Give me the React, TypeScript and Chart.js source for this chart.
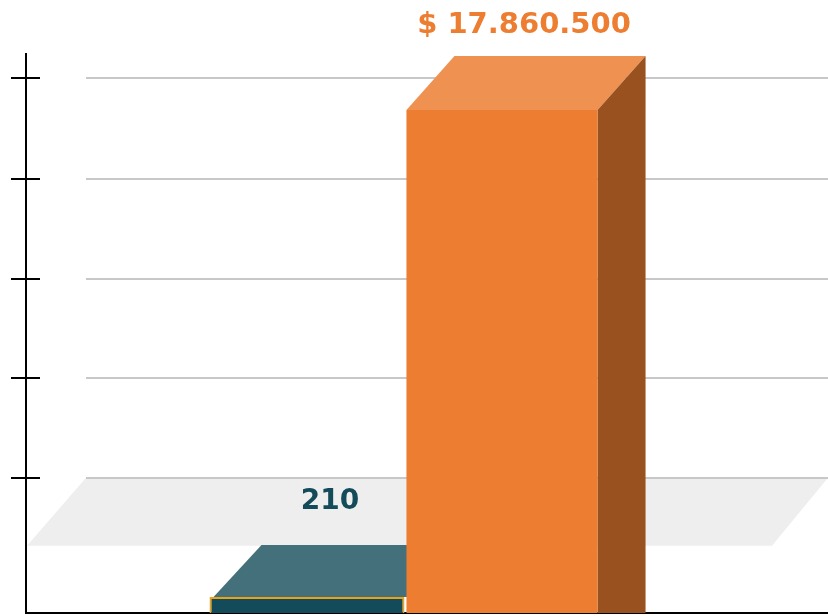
import React, { useEffect, useRef } from "react";
import { Chart, registerables } from "chart.js";

Chart.register(...registerables);

const categories = [""];
const countValues = [210];
const moneyValues = [17860500];
const moneyTicks = [4800000, 8350000, 11860000, 15410000, 19000000];
const countLabel = "210";
const moneyLabel = "$ 17.860.500";

const TEAL = "#144B5A";
const TEAL_TOP = "#44707C";
const ORANGE = "#ED7D31";
const ORANGE_TOP = "#EF9150";
const ORANGE_SIDE = "#9A5120";

function poly(ctx: CanvasRenderingContext2D, pts: number[][], fill: string) {
  ctx.fillStyle = fill;
  ctx.beginPath();
  pts.forEach(([x, y], i) => (i ? ctx.lineTo(x, y) : ctx.moveTo(x, y)));
  ctx.closePath();
  ctx.fill();
}

const scenePlugin = {
  id: "scene3d",
  beforeDatasetsDraw(chart: any) {
    const { ctx, width } = chart;
    const y = chart.scales.y;
    const firstGrid = y.getPixelForValue(moneyTicks[0]);
    ctx.save();
    // floor band
    poly(ctx, [[86, firstGrid], [width, firstGrid], [772, firstGrid + 68], [27, firstGrid + 68]], "#EEEEEE");
    // back wall grid lines
    ctx.strokeStyle = "#C8C8C8";
    ctx.lineWidth = 2;
    moneyTicks.forEach((t) => {
      const p = Math.round(y.getPixelForValue(t));
      ctx.beginPath();
      ctx.moveTo(86, p);
      ctx.lineTo(width, p);
      ctx.stroke();
    });
    // tops and sides
    const dx = 48;
    const teal = chart.getDatasetMeta(0).data[0];
    const tl = teal.x - teal.width / 2;
    const tr = teal.x + teal.width / 2;
    poly(ctx, [[tl + 4, teal.y], [tl + 4 + dx, teal.y - 52], [tr + dx, teal.y - 52], [tr + 4, teal.y]], TEAL_TOP);
    const o = chart.getDatasetMeta(1).data[0];
    const ol = o.x - o.width / 2;
    const or = o.x + o.width / 2;
    poly(ctx, [[ol, o.y], [ol + dx, o.y - 54], [or + dx, o.y - 54], [or, o.y]], ORANGE_TOP);
    poly(ctx, [[or, o.y], [or + dx, o.y - 54], [or + dx, o.base], [or, o.base]], ORANGE_SIDE);
    ctx.restore();
  },
  afterDraw(chart: any) {
    const { ctx, width } = chart;
    const y = chart.scales.y;
    const area = chart.chartArea;
    ctx.save();
    // tick marks cross the axis
    ctx.strokeStyle = "#000000";
    ctx.lineWidth = 2;
    moneyTicks.forEach((t) => {
      const p = Math.round(y.getPixelForValue(t));
      ctx.beginPath();
      ctx.moveTo(area.left, p);
      ctx.lineTo(40, p);
      ctx.stroke();
    });
    // baseline runs to the page edge
    ctx.beginPath();
    ctx.moveTo(area.right, area.bottom);
    ctx.lineTo(width, area.bottom);
    ctx.stroke();
    // value labels
    const teal = chart.getDatasetMeta(0).data[0];
    const o = chart.getDatasetMeta(1).data[0];
    ctx.textAlign = "center";
    ctx.textBaseline = "middle";
    ctx.font = "bold 28px 'DejaVu Sans'";
    ctx.fillStyle = TEAL;
    ctx.fillText(countLabel, teal.x + 23, teal.y - 95);
    ctx.font = "bold 29px 'DejaVu Sans'";
    ctx.fillStyle = ORANGE;
    ctx.fillText(moneyLabel, o.x + 22, o.y - 85);
    ctx.restore();
  },
};

export default function App() {
  const ref = useRef<HTMLCanvasElement>(null);
  useEffect(() => {
    document.body.style.margin = "0";
    const chart = new Chart(ref.current!, {
      type: "bar",
      data: {
        labels: categories,
        datasets: [
          {
            label: "Cantidad",
            data: countValues,
            yAxisID: "y2",
            backgroundColor: TEAL,
            borderColor: "#EDA20F",
            borderWidth: 2,
            categoryPercentage: 0.5152,
            barPercentage: 1,
          },
          {
            label: "Monto",
            data: moneyValues,
            yAxisID: "y",
            backgroundColor: ORANGE,
            borderWidth: 0,
            categoryPercentage: 0.5152,
            barPercentage: 0.98,
          },
        ],
      },
      options: {
        animation: false,
        responsive: false,
        layout: { padding: { left: 11, top: 54, right: 45, bottom: 3 } },
        plugins: { legend: { display: false }, tooltip: { enabled: false } },
        scales: {
          x: {
            ticks: { display: false },
            grid: { display: false, drawTicks: false },
            border: { color: "#000000", width: 2 },
          },
          y: {
            min: 0,
            max: 19850000,
            afterBuildTicks: (s: any) => {
              s.ticks = moneyTicks.map((value) => ({ value }));
            },
            ticks: { display: false },
            grid: { drawOnChartArea: false, drawTicks: true, tickLength: 15, tickColor: "#000000", tickWidth: 2, lineWidth: 2 },
            border: { color: "#000000", width: 2 },
          },
          y2: {
            display: false,
            position: "right",
            min: 0,
            max: 7337,
          },
        },
      },
      plugins: [scenePlugin],
    } as any);
    return () => chart.destroy();
  }, []);
  return (
    <div style={{ position: "absolute", left: 0, top: 0, width: 828, height: 616 }}>
      <canvas ref={ref} width={828} height={616} style={{ display: "block" }} />
    </div>
  );
}
